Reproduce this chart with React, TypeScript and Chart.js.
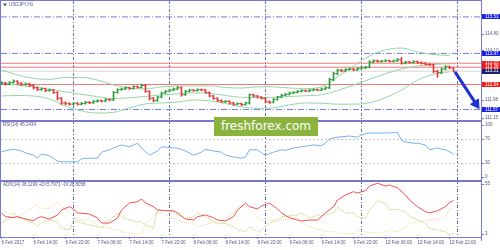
import React, { useEffect, useRef } from 'react';
import { Chart, registerables } from 'chart.js';

Chart.register(...registerables);

// ---------------- data ----------------
const opens = [112.68,112.70,112.66,112.72,112.78,112.70,112.64,112.66,112.60,112.50,
  112.42,112.46,112.38,112.40,112.30,112.05,111.85,111.82,111.80,111.84,
  111.80,111.83,111.88,111.86,111.92,111.95,111.93,112.00,111.98,112.30,
  112.42,112.45,112.50,112.47,112.55,112.52,112.60,112.35,112.05,111.95,
  112.10,112.28,112.35,112.40,112.45,112.50,112.20,112.35,112.40,112.38,
  112.42,112.40,112.30,112.15,112.05,111.95,111.90,111.92,111.85,111.80,
  111.82,111.78,111.85,112.20,112.15,112.10,112.05,111.90,111.88,112.00,
  112.10,112.18,112.22,112.28,112.30,112.35,112.38,112.36,112.40,112.42,
  112.40,112.45,112.50,112.85,113.10,113.25,113.22,113.28,113.30,113.26,
  113.32,113.35,113.38,113.60,113.65,113.62,113.64,113.66,113.63,113.65,
  113.70,113.55,113.60,113.58,113.62,113.57,113.55,113.50,113.48,113.20,
  113.15,113.30,113.40,113.35];
const closes = [112.70,112.66,112.72,112.78,112.70,112.64,112.66,112.60,112.50,112.42,
  112.46,112.38,112.40,112.30,112.05,111.85,111.82,111.80,111.84,111.80,
  111.83,111.88,111.86,111.92,111.95,111.93,112.00,111.98,112.30,112.42,
  112.45,112.50,112.47,112.55,112.52,112.60,112.35,112.05,111.95,112.10,
  112.28,112.35,112.40,112.45,112.50,112.20,112.35,112.40,112.38,112.42,
  112.40,112.30,112.15,112.05,111.95,111.90,111.92,111.85,111.80,111.82,
  111.78,111.85,112.20,112.15,112.10,112.05,111.90,111.88,112.00,112.10,
  112.18,112.22,112.28,112.30,112.35,112.38,112.36,112.40,112.42,112.40,
  112.45,112.50,112.85,113.10,113.25,113.22,113.28,113.30,113.26,113.32,
  113.35,113.38,113.60,113.65,113.62,113.64,113.66,113.63,113.65,113.70,
  113.55,113.60,113.58,113.62,113.57,113.55,113.50,113.48,113.20,113.15,
  113.30,113.40,113.35,113.22];
const highs = [112.76,112.74,112.77,112.84,112.81,112.73,112.71,112.70,112.64,112.55,
  112.50,112.49,112.45,112.43,112.33,112.09,111.90,111.86,111.88,111.87,
  111.87,111.92,111.91,111.96,111.99,111.98,112.04,112.03,112.34,112.46,
  112.49,112.55,112.53,112.59,112.58,112.66,112.64,112.38,112.09,112.14,
  112.32,112.39,112.44,112.49,112.56,112.54,112.39,112.44,112.43,112.46,
  112.45,112.43,112.33,112.18,112.08,111.99,111.96,111.95,111.88,111.86,
  111.85,111.89,112.24,112.23,112.18,112.13,112.08,111.94,112.04,112.14,
  112.22,112.26,112.32,112.34,112.39,112.42,112.41,112.44,112.46,112.45,
  112.49,112.55,112.92,113.16,113.30,113.29,113.32,113.35,113.33,113.37,
  113.39,113.42,113.66,113.70,113.69,113.68,113.70,113.69,113.69,113.76,
  113.80,113.64,113.63,113.66,113.65,113.61,113.58,113.53,113.51,113.25,
  113.34,113.45,113.43,113.38];
const lows = [112.63,112.61,112.62,112.69,112.66,112.60,112.61,112.56,112.45,112.38,
  112.39,112.33,112.35,112.25,111.98,111.79,111.77,111.75,111.77,111.76,
  111.77,111.80,111.82,111.83,111.88,111.89,111.90,111.94,111.95,112.27,
  112.39,112.42,112.43,112.44,112.48,112.49,112.30,111.98,111.90,111.92,
  112.07,112.25,112.32,112.37,112.42,112.14,112.17,112.32,112.35,112.35,
  112.37,112.26,112.11,112.00,111.91,111.86,111.87,111.81,111.75,111.77,
  111.73,111.75,111.80,112.11,112.06,112.01,111.85,111.83,111.85,111.97,
  112.07,112.15,112.19,112.25,112.27,112.32,112.33,112.33,112.37,112.37,
  112.37,112.42,112.46,112.80,113.06,113.18,113.19,113.25,113.22,113.23,
  113.29,113.32,113.35,113.57,113.59,113.59,113.61,113.60,113.60,113.62,
  113.51,113.52,113.55,113.55,113.53,113.51,113.46,113.44,113.14,112.95,
  113.10,113.26,113.31,113.18];

const bandIdx = [0,4,8,12,16,20,24,28,32,36,40,44,48,52,56,60,64,68,72,76,80,84,88,92,96,100,104,108,112];
const bandUpper = [113.26,113.05,112.90,112.86,112.94,112.94,112.83,112.62,112.49,112.45,
  112.54,112.58,112.58,112.58,112.51,112.49,112.54,112.54,112.49,112.47,
  112.54,112.96,113.43,113.86,114.12,114.20,114.03,113.92,113.88];
const bandMiddle = [112.71,112.61,112.53,112.44,112.33,112.22,112.12,112.04,112.07,112.13,
  112.20,112.24,112.28,112.26,112.17,112.09,112.08,112.09,112.13,112.16,
  112.20,112.38,112.62,112.86,113.10,113.30,113.43,113.50,113.52];
const bandLower = [112.15,112.17,112.15,112.02,111.72,111.51,111.42,111.45,111.64,111.81,
  111.85,111.89,111.98,111.94,111.83,111.68,111.62,111.64,111.77,111.85,
  111.84,111.80,111.80,111.86,112.08,112.40,112.83,113.08,113.18];

const blueLevels = [115.53, 113.97, 111.57];
const redLevels = [113.55, 113.38, 112.64];
const bidPrice = 113.21;
const priceTicks = [114.80, 114.10, 111.98, 111.15];

const arrowX = [113.375, 118.625];
const arrowY = [113.18, 111.81];

const rsiIdx = [0,3,5,6,8,9,10,12,14,15,17,19,20,22,24,25,27,29,30,32,
  34,35,37,39,40,43,44,46,48,50,51,53,55,56,58,60,61,62,64,65,
  66,68,70,71,73,75,76,78,80,81,82,83,84,87,89,90,92,95,97,99,
  100,101,103,104,106,107,109,110,111,113];
const rsiVal = [49,53,50,47,43,38,45,42,33,32,32,32,37,38,38,48,52,58,60,57,
  63,55,43,50,57,55,55,50,43,48,53,50,48,43,40,38,40,52,52,47,
  43,48,52,51,55,57,58,60,59,63,70,72,73,75,73,77,80,80,80,81,
  68,65,63,63,60,52,55,53,52,45.24];
const rsiLevels = [30, 70];
const rsiTicks = [100, 70, 30, 0];

const dmiIdx = [0,1,3,4,6,8,9,10,12,14,15,17,18,19,22,24,25,27,29,30,
  32,34,35,36,38,39,41,43,44,46,48,49,51,53,54,56,58,59,61,62,
  64,65,67,69,70,72,74,75,77,79,81,83,84,86,88,89,91,92,94,96,
  97,99,101,102,104,106,107,109,111,112,113];
const adxVal = [25.9,22.3,21.3,22.3,20.0,18.4,21.0,22.3,20.0,23.9,
  28.8,32.0,29.8,25.9,24.9,21.0,16.1,16.1,21.0,28.8,
  35.6,36.9,39.5,35.6,32.0,28.8,28.1,28.1,25.9,20.0,
  19.0,22.3,23.9,21.3,19.0,18.1,22.3,28.8,35.6,32.0,
  29.8,32.7,35.6,29.8,25.9,21.3,19.0,18.1,19.0,19.0,
  25.9,32.0,38.5,43.4,46.6,45.3,47.6,52.1,54.8,52.1,
  53.1,50.2,43.4,38.5,32.0,27.1,25.9,28.1,32.0,36.0,
  38.12];
const plusDI = [16.1,19.0,25.9,22.3,19.0,16.1,12.5,16.1,19.0,17.4,
  11.3,9.3,19.0,17.4,14.2,12.5,11.0,19.0,25.9,22.3,
  19.0,17.4,17.4,14.2,11.0,28.8,28.1,27.1,23.9,20.7,
  22.3,25.9,22.3,17.4,15.2,15.8,12.5,9.3,7.7,12.5,
  7.7,9.3,16.1,19.0,22.3,22.9,23.9,25.9,21.0,23.9,
  23.9,26.1,31.7,25.9,25.9,22.3,20.7,28.8,37.8,35.3,
  28.8,29.5,27.1,22.3,19.0,15.8,11.0,9.3,7.7,4.4,
  5.80];
const minusDI = [14.2,18.0,22.3,22.3,27.1,32.0,33.6,30.4,30.4,36.9,
  32.0,27.1,22.3,19.0,19.0,14.2,12.5,11.0,9.3,7.7,
  6.1,5.1,6.1,15.8,22.3,27.1,23.9,20.7,19.0,16.1,
  16.1,12.5,14.2,17.4,16.1,20.7,25.6,32.0,33.6,28.8,
  21.0,19.0,19.0,19.0,19.0,19.0,21.0,15.8,12.5,10.0,
  8.3,7.7,6.1,5.4,6.1,9.3,7.7,6.7,6.1,7.7,
  9.3,7.7,12.5,15.8,17.4,19.0,19.0,19.7,22.3,29.5,
  30.81];
const adxTicks = [55, 3];

const xTickIdx = [0,8,16,24,32,40,48,56,64,72,80,88,96,104,112];
const xLabels = ['6 Feb 2017','6 Feb 14:00','6 Feb 22:00','7 Feb 06:00','7 Feb 14:00','7 Feb 22:00',
  '8 Feb 06:00','8 Feb 14:00','8 Feb 22:00','9 Feb 06:00','9 Feb 14:00','9 Feb 22:00',
  '10 Feb 06:00','10 Feb 14:00','10 Feb 22:00'];
const daySeparators = [18, 42, 66, 90, 114];

const titleText = 'USDJPY,H1';
const rsiText = 'RSI(14) 45.2434';
const adxText = 'ADX(14) 38.1199 +DI:5.7971 -DI:30.8058';
const watermarkText = 'freshforex.com';

// ---------------- styles ----------------
const FONT = '"Liberation Sans", Arial, Helvetica, sans-serif';
const SMALL = 4.5;
const TEXT = '#55557f';
const FRAME = '#7878cc';
const SEP = '#6a6aaa';
const BLUE_LVL = '#7878e0';
const RED_LVL = '#f07a7a';
const BID = '#d6d6d6';
const BAND = '#92d6a6';
const UP = '#2f9e3a';
const DOWN = '#e23a3a';
const RSI_C = '#74b0f0';
const ADX_C = '#ee5050';
const PDI_C = '#acd055';
const MDI_C = '#f5cf9f';
const ARROW = '#1e32d2';
const BOX_BLUE = '#1a22e0';
const BOX_RED = '#ee1c1c';
const BOX_BID = '#1c2470';

const X_MIN = -0.125;
const X_MAX = 119.875;
const P_MIN = 111.08;
const P_MAX = 116.21;

type Item = { v: number; t: string; bg?: string };

function rightLabels(items: Item[], margin: number) {
  return {
    id: 'rightLabels',
    afterDraw(chart: any) {
      const { ctx, chartArea } = chart;
      const sc = chart.scales.y;
      ctx.save();
      ctx.font = `${SMALL}px ${FONT}`;
      ctx.textBaseline = 'middle';
      ctx.textAlign = 'left';
      for (const it of items) {
        let py = sc.getPixelForValue(it.v);
        py = Math.max(chartArea.top + margin, Math.min(chartArea.bottom - margin, py));
        if (it.bg) {
          ctx.fillStyle = it.bg;
          ctx.fillRect(chartArea.right, Math.round(py - 2.5), chart.width - chartArea.right, 5);
          ctx.fillStyle = '#ffffff';
        } else {
          ctx.fillStyle = FRAME;
          ctx.fillRect(chartArea.right + 1, Math.round(py), 2, 1);
          ctx.fillStyle = TEXT;
        }
        ctx.fillText(it.t, chartArea.right + 4, py);
      }
      ctx.restore();
    },
  };
}

function paneTitle(text: string, x: number, y: number, triangle: boolean) {
  return {
    id: 'paneTitle',
    afterDraw(chart: any) {
      const { ctx } = chart;
      ctx.save();
      ctx.fillStyle = TEXT;
      if (triangle) {
        ctx.beginPath();
        ctx.moveTo(x - 6, y - 1.5);
        ctx.lineTo(x - 2, y - 1.5);
        ctx.lineTo(x - 4, y + 1.5);
        ctx.closePath();
        ctx.fill();
      }
      ctx.font = `${SMALL}px ${FONT}`;
      ctx.textBaseline = 'middle';
      ctx.textAlign = 'left';
      ctx.fillText(text, x, y);
      ctx.restore();
    },
  };
}

// axis drawing only the day separators (dash-dot vertical grid lines), zero height
function separatorAxis() {
  return {
    type: 'linear',
    axis: 'x',
    position: 'bottom',
    min: X_MIN,
    max: X_MAX,
    offset: false,
    display: true,
    afterBuildTicks: (s: any) => { s.ticks = daySeparators.map((v) => ({ value: v })); },
    afterFit: (s: any) => { s.height = 0; s.paddingLeft = 0; s.paddingRight = 0; },
    ticks: { display: false },
    grid: { offset: false, drawOnChartArea: true, drawTicks: false, color: SEP, lineWidth: 1 },
    border: { display: false, dash: [3, 2, 1, 2] },
  };
}

function labelAxis() {
  return {
    type: 'linear',
    axis: 'x',
    position: 'bottom',
    min: X_MIN,
    max: X_MAX,
    offset: false,
    display: true,
    afterBuildTicks: (s: any) => { s.ticks = xTickIdx.map((v) => ({ value: v })); },
    afterFit: (s: any) => { s.height = 13; s.paddingLeft = 0; s.paddingRight = 0; },
    ticks: {
      autoSkip: false, maxRotation: 0, minRotation: 0, align: 'start', padding: 1,
      color: TEXT, font: { size: SMALL, family: FONT },
      callback: (_v: any, i: number) => xLabels[i],
    },
    grid: { offset: false, drawOnChartArea: false, drawTicks: true, tickLength: 2, color: FRAME, tickColor: FRAME },
    border: { display: false },
  };
}

function yScale(min: number, max: number, extra: any = {}) {
  return {
    type: 'linear',
    position: 'right',
    min,
    max,
    offset: false,
    display: true,
    ticks: { display: false },
    grid: { display: false },
    border: { display: false },
    afterFit: (s: any) => { s.width = 19; s.paddingTop = 0; s.paddingBottom = 0; },
    ...extra,
  };
}

function baseOptions(padding: any) {
  return {
    responsive: false,
    maintainAspectRatio: false,
    animation: false,
    devicePixelRatio: 1,
    events: [],
    layout: { padding, autoPadding: false },
    plugins: { legend: { display: false }, tooltip: { enabled: false } },
  };
}

function hLine(v: number, color: string, dash: number[]) {
  return {
    type: 'line',
    data: [{ x: X_MIN, y: v }, { x: X_MAX, y: v }],
    borderColor: color,
    borderWidth: 1,
    borderDash: dash,
    pointRadius: 0,
    order: 10,
  };
}

function bandLine(values: number[]) {
  return {
    type: 'line',
    data: bandIdx.map((x, k) => ({ x, y: values[k] })),
    borderColor: BAND,
    borderWidth: 1,
    pointRadius: 0,
    cubicInterpolationMode: 'monotone',
    order: 6,
  };
}

export default function App() {
  const aRef = useRef<HTMLCanvasElement>(null);
  const bRef = useRef<HTMLCanvasElement>(null);
  const cRef = useRef<HTMLCanvasElement>(null);

  useEffect(() => {
    const charts: Chart[] = [];
    const idx = closes.map((_, i) => i);
    const barColors = idx.map((i) => (closes[i] >= opens[i] ? UP : DOWN));

    // main price pane
    charts.push(new Chart(aRef.current as HTMLCanvasElement, {
      type: 'line',
      data: {
        datasets: [
          ...blueLevels.map((v) => hLine(v, BLUE_LVL, [6, 2, 1, 2])),
          ...redLevels.map((v) => hLine(v, RED_LVL, [])),
          hLine(bidPrice, BID, []),
          bandLine(bandUpper),
          bandLine(bandMiddle),
          bandLine(bandLower),
          {
            type: 'bar',
            data: idx.map((i) => ({ x: i, y: [lows[i], highs[i]] })),
            backgroundColor: barColors,
            borderWidth: 0,
            barThickness: 1,
            order: 4,
          },
          {
            type: 'line',
            showLine: false,
            data: idx.map((i) => ({ x: i - 0.25, y: opens[i] })),
            pointStyle: 'line',
            pointRadius: 1,
            pointBorderWidth: 1,
            pointBorderColor: barColors,
            order: 3,
          },
          {
            type: 'line',
            showLine: false,
            data: idx.map((i) => ({ x: i + 0.25, y: closes[i] })),
            pointStyle: 'line',
            pointRadius: 1,
            pointBorderWidth: 1,
            pointBorderColor: barColors,
            order: 3,
          },
          {
            type: 'line',
            data: arrowX.map((x, k) => ({ x, y: arrowY[k] })),
            borderColor: ARROW,
            borderWidth: 3,
            pointRadius: [0, 5.5],
            pointStyle: 'triangle',
            pointRotation: 146,
            pointBackgroundColor: ARROW,
            pointBorderColor: ARROW,
            pointBorderWidth: 1,
            clip: false,
            order: 0,
          },
        ],
      } as any,
      options: {
        ...baseOptions({ left: 1, top: 1, right: 0, bottom: 0 }),
        scales: { x: separatorAxis(), y: yScale(P_MIN, P_MAX) },
      } as any,
      plugins: [
        rightLabels([
          ...priceTicks.map((v) => ({ v, t: v.toFixed(2) })),
          ...blueLevels.map((v) => ({ v, t: v.toFixed(2), bg: BOX_BLUE })),
          ...redLevels.map((v) => ({ v, t: v.toFixed(2), bg: BOX_RED })),
          { v: bidPrice, t: bidPrice.toFixed(2), bg: BOX_BID },
        ], 3),
        paneTitle(titleText, 9, 5, true),
      ] as any,
    }));

    // RSI pane
    charts.push(new Chart(bRef.current as HTMLCanvasElement, {
      type: 'line',
      data: {
        datasets: [{
          data: rsiIdx.map((x, k) => ({ x, y: rsiVal[k] })),
          borderColor: RSI_C,
          borderWidth: 1,
          pointRadius: 0,
        }],
      } as any,
      options: {
        ...baseOptions({ left: 1, top: 0, right: 0, bottom: 0 }),
        scales: {
          x: separatorAxis(),
          y: yScale(0, 100, {
            afterBuildTicks: (s: any) => { s.ticks = rsiLevels.map((v) => ({ value: v })); },
            grid: { display: true, color: '#c4c4c4', drawTicks: false, lineWidth: 1 },
            border: { display: false, dash: [2, 2] },
          }),
        },
      } as any,
      plugins: [
        rightLabels(rsiTicks.map((v) => ({ v, t: String(v) })), 4),
        paneTitle(rsiText, 3, 4, false),
      ] as any,
    }));

    // ADX pane
    charts.push(new Chart(cRef.current as HTMLCanvasElement, {
      type: 'line',
      data: {
        datasets: [
          {
            data: dmiIdx.map((x, k) => ({ x, y: minusDI[k] })),
            borderColor: MDI_C, borderWidth: 1, borderDash: [1, 1], pointRadius: 0, order: 3,
          },
          {
            data: dmiIdx.map((x, k) => ({ x, y: plusDI[k] })),
            borderColor: PDI_C, borderWidth: 1, borderDash: [1, 1], pointRadius: 0, order: 2,
          },
          {
            data: dmiIdx.map((x, k) => ({ x, y: adxVal[k] })),
            borderColor: ADX_C, borderWidth: 1, pointRadius: 0, order: 1,
          },
        ],
      } as any,
      options: {
        ...baseOptions({ left: 1, top: 0, right: 0, bottom: 0 }),
        scales: { x: labelAxis(), xs: separatorAxis(), y: yScale(2.5, 57) },
      } as any,
      plugins: [
        rightLabels(adxTicks.map((v) => ({ v, t: String(v) })), 3),
        paneTitle(adxText, 3, 4, false),
      ] as any,
    }));

    return () => { charts.forEach((c) => c.destroy()); };
  }, []);

  const abs = (l: number, t: number, w: number, h: number, bg: string): React.CSSProperties => ({
    position: 'absolute', left: l, top: t, width: w, height: h, background: bg,
  });

  return (
    <div style={{ position: 'fixed', left: 0, top: 0, width: 500, height: 250, background: '#ffffff', overflow: 'hidden' }}>
      <canvas ref={aRef} width={500} height={121} style={{ position: 'absolute', left: 0, top: 0 }} />
      <canvas ref={bRef} width={500} height={60} style={{ position: 'absolute', left: 0, top: 121 }} />
      <canvas ref={cRef} width={500} height={69} style={{ position: 'absolute', left: 0, top: 181 }} />
      <div style={abs(0, 0, 482, 1, FRAME)} />
      <div style={abs(0, 0, 1, 238, FRAME)} />
      <div style={abs(481, 0, 1, 241, FRAME)} />
      <div style={abs(0, 237, 482, 1, FRAME)} />
      <div style={abs(0, 120, 481, 2, FRAME)} />
      <div style={abs(0, 180, 481, 2, FRAME)} />
      <div
        style={{
          position: 'absolute', left: 214, top: 117, width: 104, height: 19,
          background: '#8bb43f', color: '#ffffff', textAlign: 'center',
          font: '12px "DejaVu Sans", Verdana, sans-serif', lineHeight: '19px', whiteSpace: 'nowrap',
        }}
      >
        {watermarkText}
      </div>
    </div>
  );
}
